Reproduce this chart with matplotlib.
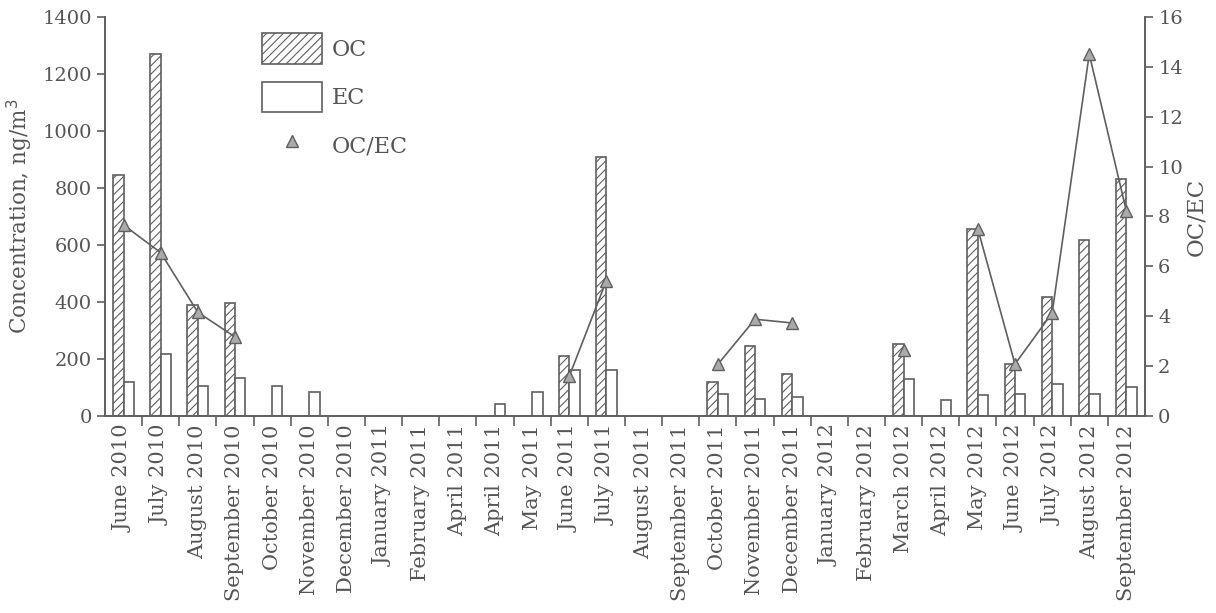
import numpy as np
import matplotlib
matplotlib.use("Agg")
import matplotlib.pyplot as plt
from matplotlib.patches import Patch
from matplotlib.lines import Line2D

months = [
    "June 2010", "July 2010", "August 2010", "September 2010", "October 2010",
    "November 2010", "December 2010", "January 2011", "February 2011",
    "April 2011", "April 2011", "May 2011", "June 2011", "July 2011",
    "August 2011", "September 2011", "October 2011", "November 2011",
    "December 2011", "January 2012", "February 2012", "March 2012",
    "April 2012", "May 2012", "June 2012", "July 2012", "August 2012",
    "September 2012",
]
nan = np.nan
oc = [845, 1270, 390, 398, nan, nan, nan, nan, nan, nan, nan, nan, 212, 910,
      nan, nan, 120, 247, 147, nan, nan, 253, nan, 656, 182, 419, 619, 832]
ec = [120, 219, 106, 134, 104, 84, nan, nan, nan, nan, 43, 85, 161, 160,
      nan, nan, 76, 61, 68, nan, nan, 131, 56, 72, 76, 111, 76, 103]
ratio = [7.66, 6.55, 4.16, 3.17, nan, nan, nan, nan, nan, nan, nan, nan, 1.59,
         5.43, nan, nan, 2.07, 3.88, 3.73, nan, nan, 2.65, nan, 7.50, 2.08,
         4.13, 14.51, 8.21]

grey = "#5f5f5f"
text_grey = "#555555"
plt.rcParams["font.family"] = ["DejaVu Serif"]
plt.rcParams["hatch.linewidth"] = 0.8
plt.rcParams["text.color"] = text_grey
plt.rcParams["axes.labelcolor"] = text_grey

fig = plt.figure(figsize=(12.16, 6.13), dpi=100)
ax = fig.add_axes([0.0863, 0.3214, 0.8553, 0.6509])
ax2 = ax.twinx()

x = np.arange(len(months))
w = 0.28
ax.bar(x - w / 2, np.nan_to_num(oc), width=w, facecolor="white",
       edgecolor=grey, hatch="////", linewidth=1.2)
ax.bar(x + w / 2, np.nan_to_num(ec), width=w, facecolor="white",
       edgecolor=grey, linewidth=1.2)
ax2.plot(x, ratio, color=grey, linewidth=1.2, marker="^", markersize=8,
         markerfacecolor="#aaaaaa", markeredgecolor=grey, markeredgewidth=1.0)

ax.set_xlim(-0.5, len(months) - 0.5)
ax.set_ylim(0, 1400)
ax2.set_ylim(0, 16)
ax.set_yticks(np.arange(0, 1401, 200))
ax2.set_yticks(np.arange(0, 17, 2))

ax.set_xticks(x)
ax.set_xticklabels(months, rotation=90)
ax.set_xticks(np.arange(0.5, len(months) - 1, 1.0), minor=True)
ax.tick_params(axis="x", which="major", length=0, pad=6)
ax.tick_params(axis="x", which="minor", length=7, width=1.2, color=grey)

fs = 14
for a in (ax, ax2):
    a.tick_params(axis="y", length=6, width=1.2, color=grey,
                  labelcolor=text_grey, labelsize=fs)
    for s in a.spines.values():
        s.set_color(grey)
        s.set_linewidth(1.2)
    a.spines["top"].set_visible(False)
ax.tick_params(axis="x", labelcolor=text_grey, labelsize=15)

ax.set_ylabel("Concentration, ng/m$^3$", fontsize=15.5, labelpad=5)
ax2.set_ylabel("OC/EC", fontsize=16.5, labelpad=2)

handles = [
    Patch(facecolor="white", edgecolor=grey, hatch="////", linewidth=1.2),
    Patch(facecolor="white", edgecolor=grey, linewidth=1.2),
    Line2D([], [], linestyle="none", marker="^", markersize=8,
           markerfacecolor="#aaaaaa", markeredgecolor=grey),
]
leg = fig.legend(handles, ["OC", "EC", "OC/EC"], loc="upper left",
                 bbox_to_anchor=(262 / 1216, 1 - 33 / 613), frameon=False,
                 fontsize=16, handlelength=2.7, handleheight=1.75,
                 labelspacing=0.8, handletextpad=0.45, borderpad=0,
                 borderaxespad=0)

fig.savefig("out.png", dpi=100)
